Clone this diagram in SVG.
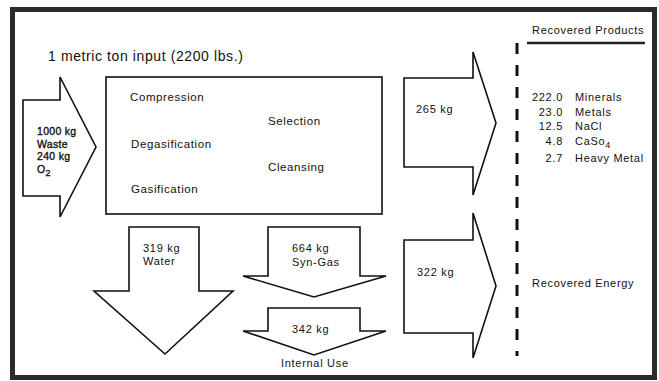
<svg xmlns="http://www.w3.org/2000/svg" width="659" height="381" viewBox="0 0 659 381">
<style>
text{font-family:"Liberation Sans",Arial,sans-serif;fill:#111;font-size:11px;letter-spacing:0.7px}
.t{font-size:14px;letter-spacing:0.6px}
.m{font-size:11.5px;letter-spacing:0.6px}
.b{font-size:10.5px;letter-spacing:0.3px;stroke:#111;stroke-width:0.35px}
.arrow polygon,.box{fill:#fff;stroke:#111;stroke-width:1.6;stroke-linejoin:miter}
</style>
<rect x="0" y="0" width="659" height="381" fill="#fff"/>
<rect id="frame" x="12.5" y="9.5" width="642" height="368" fill="none" stroke="#2b2b2b" stroke-width="5"/>
<text class="t" x="48" y="61">1 metric ton input (2200 lbs.)</text>

<g id="process">
<rect class="box" x="106" y="77" width="276" height="137"/>
<text class="m" x="130" y="101">Compression</text>
<text class="m" x="268" y="125">Selection</text>
<text class="m" x="131" y="148">Degasification</text>
<text class="m" x="268" y="171">Cleansing</text>
<text class="m" x="131" y="193">Gasification</text>
</g>

<g id="connectors" class="arrow">
<g id="input">
<polygon points="23,100 60,100 60,77 96,147 60,217 60,196 23,196"/>
<text class="b" x="37" y="135">1000 kg</text>
<text class="b" x="37" y="148">Waste</text>
<text class="b" x="37" y="160">240 kg</text>
<text class="b" x="37" y="173">O<tspan dy="3" font-size="9">2</tspan></text>
</g>
<g id="out265">
<polygon points="404,78 473,78 473,52 496,123 473,195 473,167 404,167"/>
<text x="416" y="113">265 kg</text>
</g>
<g id="out322">
<polygon points="404,240 473,240 473,213 496,286 473,358 473,333 404,333"/>
<text x="417" y="276">322 kg</text>
</g>
<g id="water">
<polygon points="129,227 199,227 199,291 233,291 165,354 94,291 129,291"/>
<text x="143" y="252">319 kg</text>
<text x="143" y="265">Water</text>
</g>
<g id="syngas">
<polygon points="268,227 360,227 360,276 386,276 314,297 243,276 268,276"/>
<text x="292" y="252">664 kg</text>
<text x="292" y="266">Syn-Gas</text>
</g>
<g id="internal">
<polygon points="268,308 360,308 360,331 386,331 314,355 243,331 268,331"/>
<text x="292" y="333">342 kg</text>
<text font-size="10.5" x="281" y="367">Internal Use</text>
</g>
</g>

<line id="divider" x1="517" y1="43" x2="517" y2="356" stroke="#111" stroke-width="3" stroke-dasharray="11 11"/>

<g id="products">
<text x="532" y="34">Recovered Products</text>
<line x1="527" y1="43" x2="645" y2="43" stroke="#222" stroke-width="2.5"/>
<g text-anchor="end">
<text x="563" y="101">222.0</text>
<text x="563" y="116">23.0</text>
<text x="563" y="130">12.5</text>
<text x="563" y="145">4.8</text>
<text x="563" y="162">2.7</text>
</g>
<text x="575" y="101">Minerals</text>
<text x="575" y="116">Metals</text>
<text x="575" y="130">NaCl</text>
<text x="575" y="145">CaSo<tspan dy="3" font-size="9">4</tspan></text>
<text x="575" y="162">Heavy Metal</text>
</g>

<g id="energy">
<text x="532" y="287">Recovered Energy</text>
</g>
</svg>
